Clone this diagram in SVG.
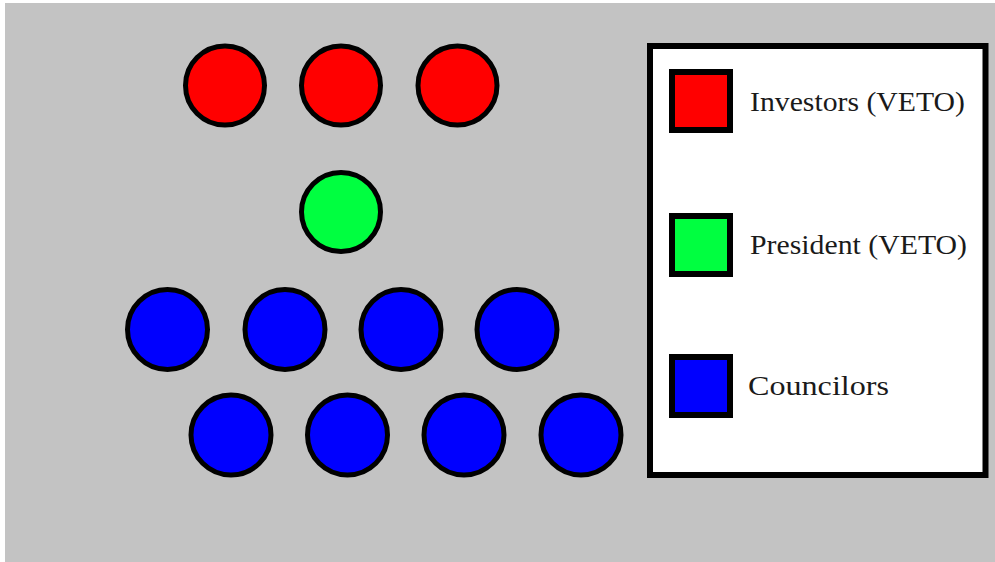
<svg xmlns="http://www.w3.org/2000/svg" width="995" height="562" viewBox="0 0 995 562">
<style>
.c{stroke:#000;stroke-width:5}
.inv{fill:#ff0000}
.pres{fill:#00ff40}
.cou{fill:#0000ff}
.sq{stroke:#000;stroke-width:6}
.t{font-family:"Liberation Serif","Times New Roman",serif;font-size:28px;fill:#1a1a1a}
</style>
<rect x="0" y="0" width="995" height="562" fill="#ffffff"/>
<rect x="5" y="3" width="990" height="559" fill="#c3c3c3"/>
<g id="investor-1"><circle class="c inv" cx="225" cy="85.5" r="39.5"/></g>
<g id="investor-2"><circle class="c inv" cx="341" cy="85.5" r="39.5"/></g>
<g id="investor-3"><circle class="c inv" cx="457.5" cy="85.5" r="39.5"/></g>
<g id="president"><circle class="c pres" cx="341" cy="212" r="39.5"/></g>
<g id="councilor-1"><circle class="c cou" cx="167.5" cy="329.5" r="40"/></g>
<g id="councilor-2"><circle class="c cou" cx="285" cy="329.5" r="40"/></g>
<g id="councilor-3"><circle class="c cou" cx="401" cy="329.5" r="40"/></g>
<g id="councilor-4"><circle class="c cou" cx="517" cy="329.5" r="40"/></g>
<g id="councilor-5"><circle class="c cou" cx="231" cy="435" r="40"/></g>
<g id="councilor-6"><circle class="c cou" cx="347.5" cy="435" r="40"/></g>
<g id="councilor-7"><circle class="c cou" cx="464" cy="435" r="40"/></g>
<g id="councilor-8"><circle class="c cou" cx="581" cy="435" r="40"/></g>
<g id="legend">
<rect x="650" y="46" width="335.5" height="429" fill="#ffffff" stroke="#000" stroke-width="6"/>
<rect class="sq inv" x="672" y="72" width="58" height="58"/>
<text class="t" x="750" y="111" textLength="215" lengthAdjust="spacingAndGlyphs">Investors (VETO)</text>
<rect class="sq pres" x="672" y="216" width="58" height="58"/>
<text class="t" x="750" y="254" textLength="217" lengthAdjust="spacingAndGlyphs">President (VETO)</text>
<rect class="sq cou" x="672" y="357" width="58" height="58"/>
<text class="t" x="748" y="395" textLength="141" lengthAdjust="spacingAndGlyphs">Councilors</text>
</g>
<g id="connectors"/>
</svg>
